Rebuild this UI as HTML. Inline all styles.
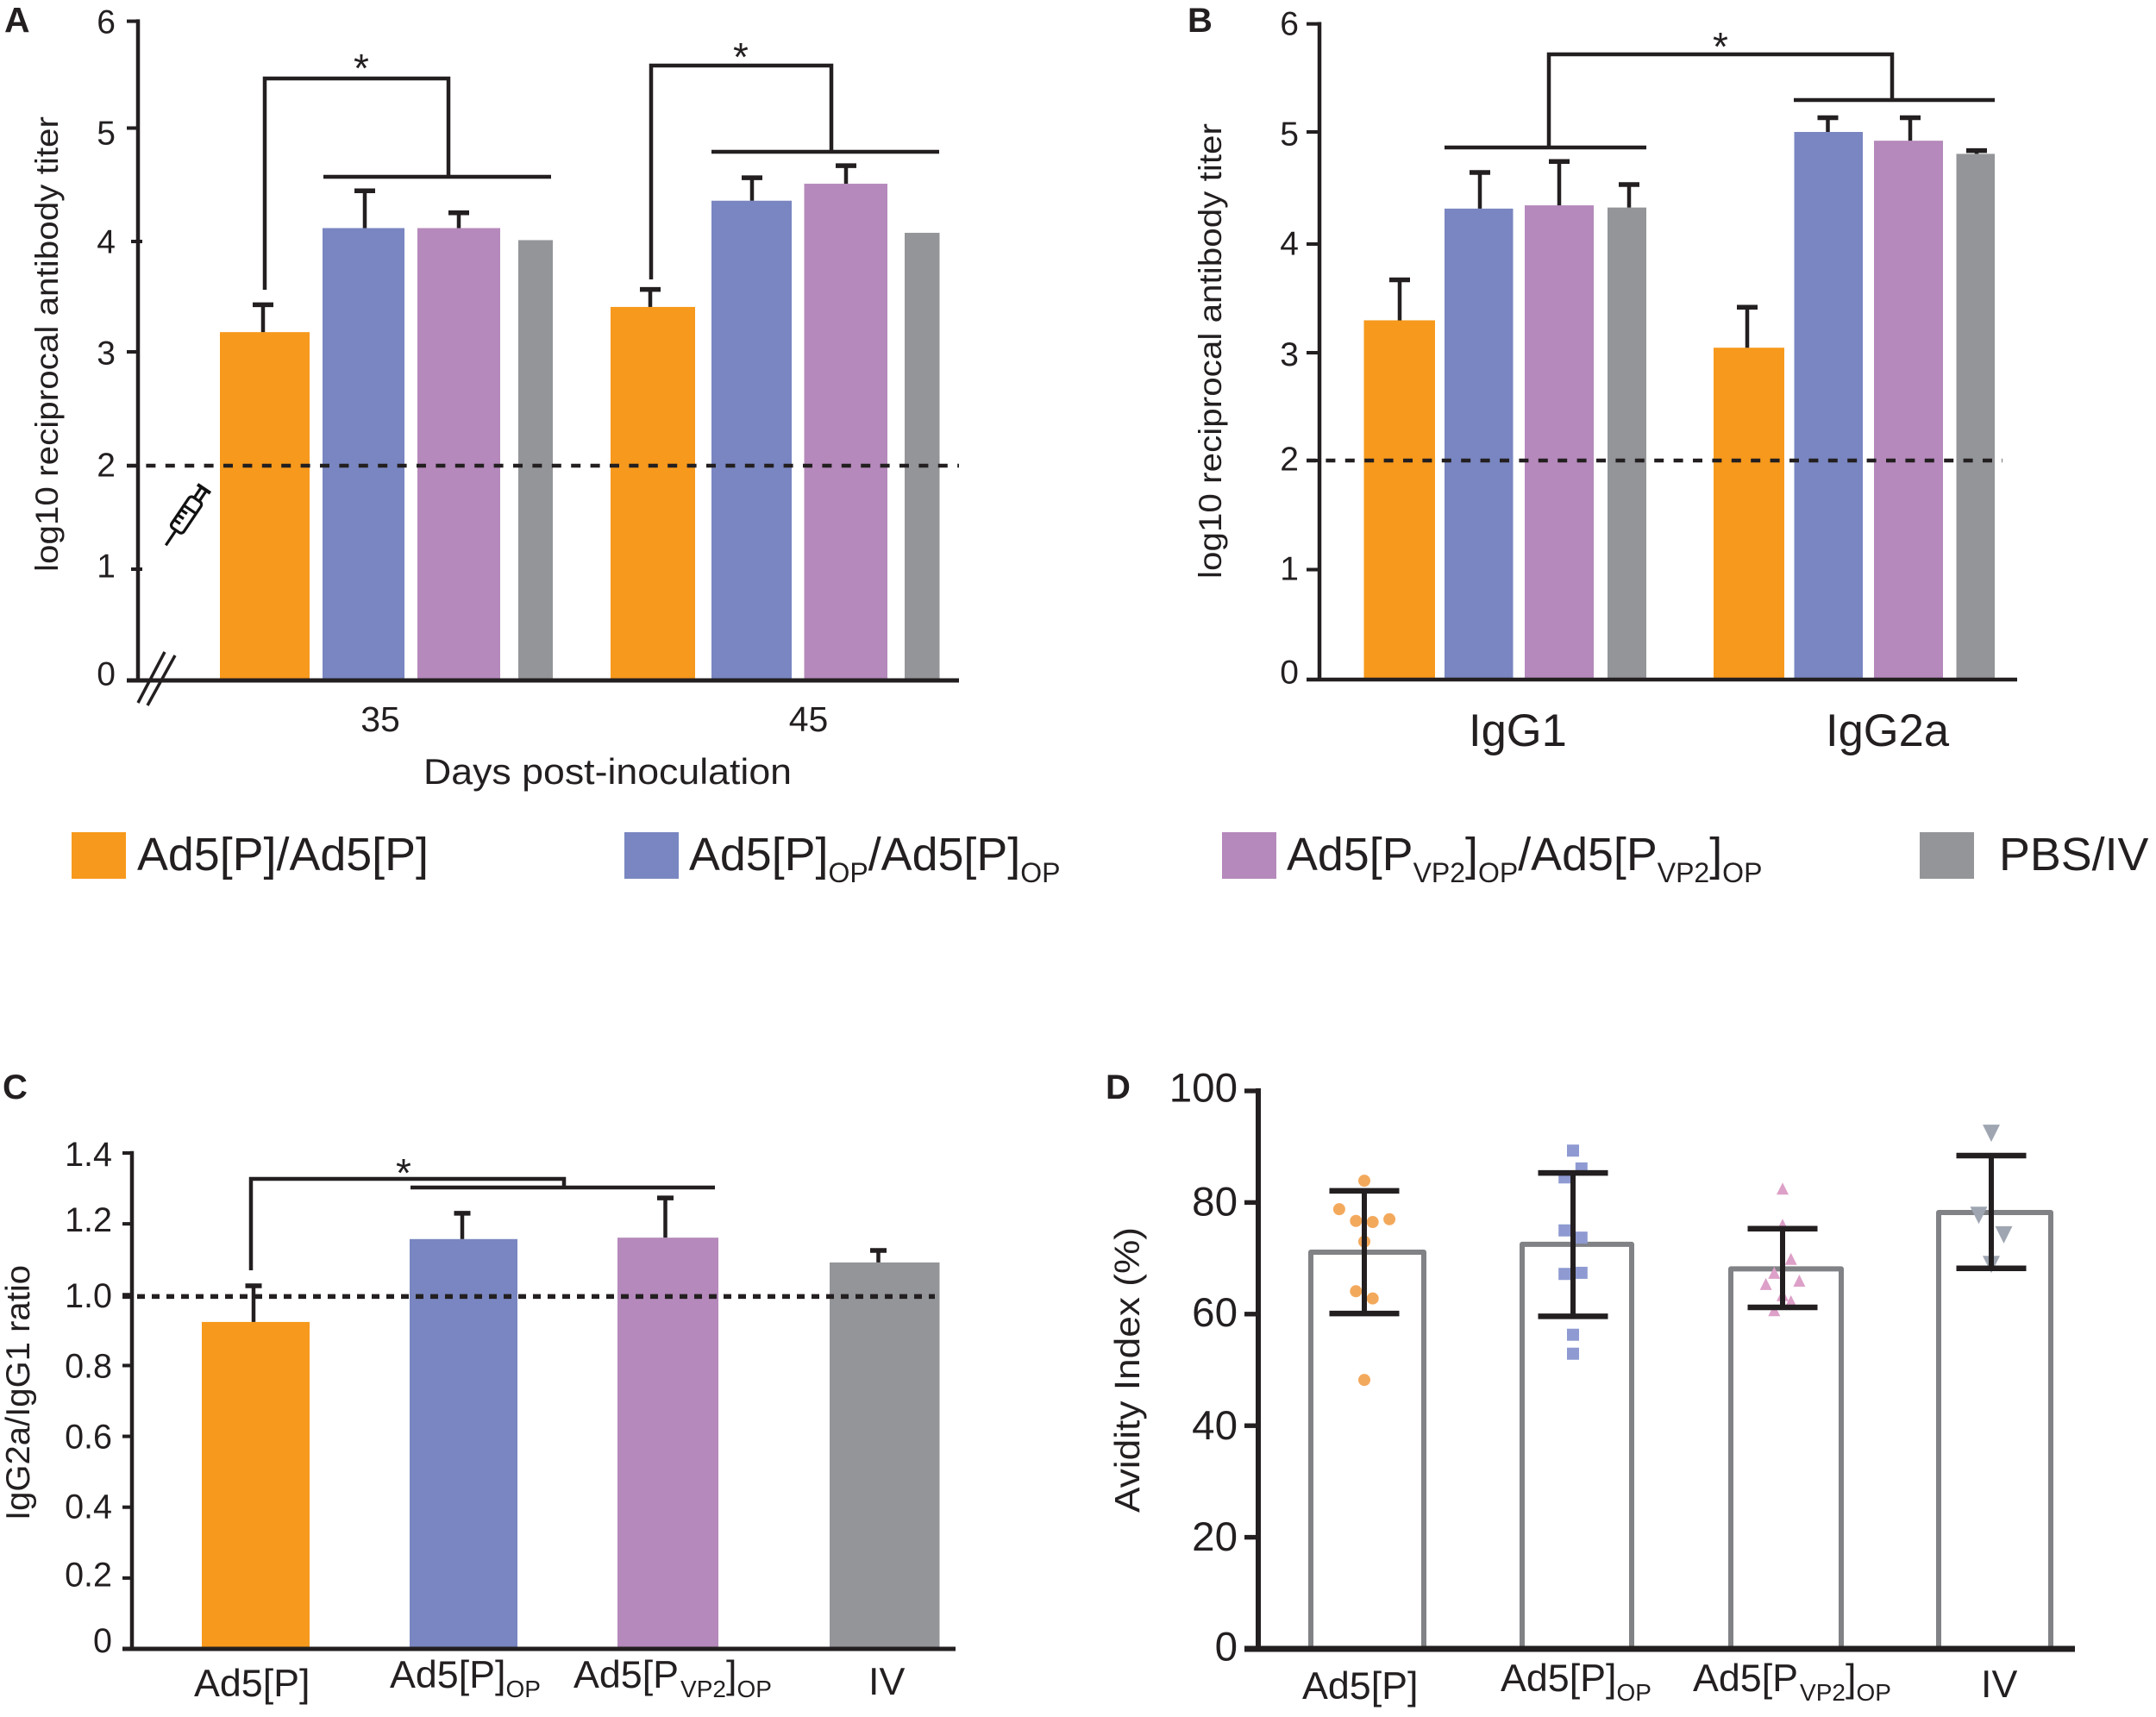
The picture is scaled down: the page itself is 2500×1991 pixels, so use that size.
<!DOCTYPE html>
<html lang="en">
<head>
<meta charset="utf-8">
<title>Antibody titers, ratio and avidity</title>
<style>
html,body{margin:0;padding:0;background:#fff}
svg{display:block}
text{font-family:"Liberation Sans",sans-serif;fill:#231f20}
.b{font-weight:bold}
.line{stroke:#231f20;fill:none;stroke-linecap:butt}
</style>
</head>
<body>
<svg id="fig" xmlns="http://www.w3.org/2000/svg" width="2500" height="1991" viewBox="0 0 2500 1991">
<rect x="0" y="0" width="2500" height="1991" fill="#fff"/>
<text class="b" x="5" y="37" font-size="41">A</text>
<text class="b" x="1377" y="37" font-size="40">B</text>
<text class="b" x="3" y="1274" font-size="40">C</text>
<text class="b" x="1282" y="1274" font-size="40">D</text>

<g id="panelA"></g>
<g id="panelB"></g>
<g id="panelC"></g>
<g id="panelD"></g>

<!-- panel A annotations -->
<text transform="translate(67,663) rotate(-90)" font-size="37" textLength="528" lengthAdjust="spacingAndGlyphs">log10 reciprocal antibody titer</text>
<text x="491" y="909" font-size="42" textLength="427" lengthAdjust="spacingAndGlyphs">Days post-inoculation</text>
<path class="line" stroke-width="4.5" d="M307 336V91H520V205M375 205H639"/>
<path class="line" stroke-width="4.5" d="M755 324V76H964V176M825 176H1089"/>
<text x="419" y="95" font-size="46" text-anchor="middle">*</text>
<text x="859" y="82" font-size="46" text-anchor="middle">*</text>
<g class="line" stroke-width="3.5" fill="none" stroke="#231f20">
<line x1="191" y1="756" x2="160" y2="815"/>
<line x1="203" y1="760" x2="171" y2="818"/>
</g>
<g transform="translate(192.3,632.3) rotate(-56)" stroke="#111" fill="none" stroke-width="3.2" stroke-linejoin="round">
<line x1="0" y1="0" x2="21" y2="0"/>
<rect x="21" y="-8.5" width="43" height="17" rx="4" fill="#fff"/>
<line x1="50" y1="-8.5" x2="50" y2="8.5"/>
<line x1="30" y1="-8.5" x2="30" y2="0"/>
<line x1="37" y1="-8.5" x2="37" y2="0"/>
<line x1="44" y1="-8.5" x2="44" y2="0"/>
<line x1="64" y1="-3.5" x2="78" y2="-3.5"/>
<line x1="64" y1="3.5" x2="78" y2="3.5"/>
<line x1="79" y1="-9" x2="79" y2="9" stroke-width="4"/>
</g>

<!-- panel B annotations -->
<text transform="translate(1416,671) rotate(-90)" font-size="37" textLength="528" lengthAdjust="spacingAndGlyphs">log10 reciprocal antibody titer</text>
<path class="line" stroke-width="4.5" d="M1675 171H1909M1796 171V63H2194V116M2080 116H2313"/>
<text x="1995" y="70" font-size="46" text-anchor="middle">*</text>

<!-- panel C annotations -->
<text transform="translate(34,1763) rotate(-90)" font-size="39" textLength="296" lengthAdjust="spacingAndGlyphs">IgG2a/IgG1 ratio</text>
<path class="line" stroke-width="4.5" d="M291 1473V1367H654V1377M476 1377H829"/>
<text x="468" y="1376" font-size="46" text-anchor="middle">*</text>
<text x="225" y="1967" font-size="44.8">Ad5[P]</text>
<text x="452" y="1957" font-size="44.8">Ad5[P]<tspan dy="11" font-size="28">OP</tspan></text>
<text x="665" y="1957" font-size="44.8">Ad5[P<tspan dx="2" dy="11" font-size="28">VP2</tspan><tspan dy="-11">]</tspan><tspan dy="11" font-size="28">OP</tspan></text>
<text x="1007" y="1965" font-size="44.8">IV</text>

<!-- panel D annotations -->
<text transform="translate(1321,1754) rotate(-90)" font-size="41" textLength="331" lengthAdjust="spacingAndGlyphs">Avidity Index (%)</text>
<text x="1510" y="1970" font-size="44.8">Ad5[P]</text>
<text x="1740" y="1961" font-size="44.8">Ad5[P]<tspan dy="11" font-size="28">OP</tspan></text>
<text x="1963" y="1961" font-size="44.8">Ad5[P<tspan dx="2" dy="11" font-size="28">VP2</tspan><tspan dy="-11">]</tspan><tspan dy="11" font-size="28">OP</tspan></text>
<text x="2297" y="1968" font-size="44.8">IV</text>

<!-- shared legend -->
<g>
<g>
<rect x="83" y="965" width="63" height="54" fill="#f7991c"/>
<text x="159" y="1009" font-size="53.8">Ad5[P]/Ad5[P]</text>
</g>
<g>
<rect x="724" y="965" width="63" height="54" fill="#7986c1"/>
<text x="799" y="1009" font-size="53.8">Ad5[P]<tspan dy="14" font-size="32">OP</tspan><tspan dy="-14">/Ad5[P]</tspan><tspan dy="14" font-size="32">OP</tspan></text>
</g>
<g>
<rect x="1417" y="965" width="63" height="54" fill="#b589bb"/>
<text x="1492" y="1009" font-size="53.8">Ad5[P<tspan dy="14" font-size="32">VP2</tspan><tspan dy="-14">]</tspan><tspan dy="14" font-size="32">OP</tspan><tspan dy="-14">/Ad5[P</tspan><tspan dy="14" font-size="32">VP2</tspan><tspan dy="-14">]</tspan><tspan dy="14" font-size="32">OP</tspan></text>
</g>
<g>
<rect x="2226" y="965" width="63" height="54" fill="#939598"/>
<text x="2318" y="1009" font-size="53.8">PBS/IV</text>
</g>
</g>
</svg>

<script>
// ---------- chart data ----------
const seriesNames = ['ad5p', 'ad5p-op', 'ad5pvp2-op', 'pbs-iv'];
const seriesColors = ['#f7991c', '#7986c1', '#b589bb', '#939598'];

// Panel A: log10 titer by day
const aCategories = ['35', '45'];
const aTicks = [0, 1, 2, 3, 4, 5, 6];
const aMeans0 = [3.18, 3.41];
const aMeans1 = [4.13, 4.38];
const aMeans2 = [4.13, 4.535];
const aMeans3 = [4.02, 4.087];
const aUpper0 = [3.43, 3.57];
const aUpper1 = [4.47, 4.59];
const aUpper2 = [4.27, 4.70];
const aThreshold = [2];

// Panel B: log10 titer by isotype
const bCategories = ['IgG1', 'IgG2a'];
const bTicks = [0, 1, 2, 3, 4, 5, 6];
const bMeans0 = [3.28, 3.03];
const bMeans1 = [4.30, 5.00];
const bMeans2 = [4.33, 4.92];
const bMeans3 = [4.31, 4.80];
const bUpper0 = [3.65, 3.40];
const bUpper1 = [4.63, 5.13];
const bUpper2 = [4.73, 5.13];
const bUpper3 = [4.52, 4.83];
const bThreshold = [2];

// Panel C: IgG2a/IgG1 ratio
const cTicks = [0, 0.2, 0.4, 0.6, 0.8, 1.0, 1.2, 1.4];
const cTickLabels = ['0', '0.2', '0.4', '0.6', '0.8', '1.0', '1.2', '1.4'];
const cMeans = [0.923, 1.157, 1.161, 1.091];
const cUpper = [1.025, 1.23, 1.273, 1.125];
const cThreshold = [0.995];

// Panel D: avidity index
const dTicks = [0, 20, 40, 60, 80, 100];
const dMeans = [71.1, 72.5, 68.1, 78.2];
const dUpper = [82.1, 85.3, 75.3, 88.4];
const dLower = [60.1, 59.6, 61.2, 68.2];
const dPoints0 = [83.9, 78.8, 76.7, 76.5, 77.0, 73.0, 64.1, 62.8, 48.2];
const dSwarm0 = [0, -3, -1, 1, 3, 0, -1, 1, 0];
const dPoints1 = [89.3, 86.1, 84.5, 75.0, 73.7, 67.2, 67.4, 56.3, 52.9];
const dSwarm1 = [0, 1, -1, -1, 1, -1, 1, 0, 0];
const dPoints2 = [82.5, 76.0, 69.9, 67.4, 65.4, 66.0, 63.4, 62.3, 60.7];
const dSwarm2 = [0, 0, 1, -1, -2, 2, 0, 1, -1];
const dPoints3 = [92.4, 77.7, 74.2, 68.9];
const dSwarm3 = [0, -1, 1, 0];

// ---------- helpers ----------
const NS = 'http://www.w3.org/2000/svg';
const INK = '#231f20';

function node(parent, tag, name) {
  const el = document.createElementNS(NS, tag);
  
  
  parent.appendChild(el);
  return el;
}
function line(parent, name, x1, y1, x2, y2, w, color) {
  const el = node(parent, 'line', name);
  el.setAttribute('x1', x1);
  el.setAttribute('y1', y1);
  el.setAttribute('x2', x2);
  el.setAttribute('y2', y2);
  el.setAttribute('stroke', color || INK);
  el.setAttribute('stroke-width', w);
  return el;
}
function label(parent, name, str, x, y, size, anchor) {
  const el = node(parent, 'text', name);
  el.setAttribute('x', x);
  el.setAttribute('y', y);
  el.setAttribute('font-size', size);
  el.setAttribute('text-anchor', anchor || 'start');
  el.textContent = str;
  return el;
}
function linear(v0, px0, v1, px1) {
  return function (v) { return px0 + (v - v0) * (px1 - px0) / (v1 - v0); };
}
function bar(parent, name, x, w, top, bottom, fill) {
  const el = node(parent, 'rect', name);
  el.setAttribute('x', x);
  el.setAttribute('y', top);
  el.setAttribute('width', w);
  el.setAttribute('height', bottom - top);
  el.setAttribute('fill', fill);
  return el;
}
function upperError(parent, name, cx, barTop, errTop, capW) {
  line(parent, name + '-stem', cx, barTop, cx, errTop, 4.5);
  line(parent, name + '-cap', cx - capW / 2, errTop, cx + capW / 2, errTop, 5.5);
}
function yAxis(parent, prefix, ticks, labels, y, axisX, tickLen, w, labelRight, size, tickNudge, labelNudge, xNudge) {
  const last = ticks.length - 1;
  line(parent, prefix + '-y-axis-line', axisX, y(ticks[last]) + tickNudge[last] - w / 2, axisX, y(ticks[0]), w);
  ticks.forEach(function (t, i) {
    const ty = y(t) + tickNudge[i];
    const sx = xNudge ? xNudge[i] : 0;
    line(parent, prefix + '-y-tick-' + labels[i], axisX - tickLen + sx, ty, axisX + sx, ty, w * 0.9);
    label(parent, prefix + '-y-tick-label-' + labels[i], labels[i], labelRight, y(t) + labelNudge[i] + size * 0.35, size, 'end');
  });
}
function dashed(parent, name, x1, x2, yv, w, dash) {
  const el = line(parent, name, x1, yv, x2, yv, w);
  el.setAttribute('stroke-dasharray', dash);
  return el;
}

// ---------- panel A ----------
(function () {
  const g = document.getElementById('panelA');
  const y = linear(0, 789, 6, 27);
  const layout = function (grp, ser) {
    return [
      [[255, 104, 305], [374, 95, 423], [484, 96, 532], [601, 40, 0]],
      [[708, 98, 754], [825, 93, 872], [932.5, 96.5, 981], [1049, 40.5, 0]]
    ][grp][ser];
  };
  const means = [aMeans0, aMeans1, aMeans2, aMeans3];
  const uppers = [aUpper0, aUpper1, aUpper2];
  aCategories.forEach(function (cat, gi) {
    means.forEach(function (m, si) {
      const p = layout(gi, si);
      bar(g, 'bar-day' + cat + '-' + seriesNames[si], p[0], p[1], y(m[gi]), y(0), seriesColors[si]);
      if (uppers[si]) upperError(g, 'error-day' + cat + '-' + seriesNames[si], p[2], y(m[gi]), y(uppers[si][gi]), 24);
    });
  });
  yAxis(g, 'panel-a', aTicks, aTicks.map(String), y, 160, 13, 4.5, 134, 39,
    [0, -2, 5, 0, -1, -5.5, -2.4], [-8, -6, 4, 1, -1, 0, -2], [0, 5, 0, 0, 5, 0, 0]);
  line(g, 'panel-a-x-axis-line', 147, y(0), 1112, y(0), 5);
  dashed(g, 'panel-a-threshold-line', 147, 1112, y(aThreshold[0]) + 5, 4.5, '11 11.4');
  const catX = [441, 937.5];
  aCategories.forEach(function (cat, i) {
    label(g, 'panel-a-x-tick-label-' + cat, cat, catX[i], 848, 41, 'middle');
  });
})();

// ---------- panel B ----------
(function () {
  const g = document.getElementById('panelB');
  const y = linear(0, 788, 6, 26);
  const layout = function (grp, ser) {
    return [
      [[1581.5, 82.5, 1623], [1675, 79.5, 1716], [1768, 80, 1808], [1864, 45, 1889]],
      [[1987, 82, 2026], [2080.5, 79.5, 2119.5], [2173, 80, 2215], [2268.5, 44.5, 2292]]
    ][grp][ser];
  };
  const means = [bMeans0, bMeans1, bMeans2, bMeans3];
  const uppers = [bUpper0, bUpper1, bUpper2, bUpper3];
  bCategories.forEach(function (cat, gi) {
    means.forEach(function (m, si) {
      const p = layout(gi, si);
      bar(g, 'bar-' + cat + '-' + seriesNames[si], p[0], p[1], y(m[gi]), y(0), seriesColors[si]);
      upperError(g, 'error-' + cat + '-' + seriesNames[si], p[2], y(m[gi]), y(uppers[si][gi]), 24);
    });
  });
  yAxis(g, 'panel-b', bTicks, bTicks.map(String), y, 1530, 15, 4.5, 1506, 39,
    [0, -0.5, 0, 2, 3, 0, 1.7], [-9, -2, -2, 3.5, 2, 2, 1]);
  line(g, 'panel-b-x-axis-line', 1515, y(0), 2339, y(0), 4.5);
  dashed(g, 'panel-b-threshold-line', 1515, 2322, y(bThreshold[0]), 4.5, '11 11.4');
  const catX = [1703, 2117];
  bCategories.forEach(function (cat, i) {
    label(g, 'panel-b-x-tick-label-' + cat, cat, catX[i], 865, 52.5, 'start');
  });
})();

// ---------- panel C ----------
(function () {
  const g = document.getElementById('panelC');
  const y = linear(0, 1912, 1.4, 1337);
  const layout = function (i) {
    return [[234, 125, 294], [475, 125, 536], [716, 117, 771.5], [962, 127.5, 1018.5]][i];
  };
  cMeans.forEach(function (m, i) {
    const p = layout(i);
    bar(g, 'bar-' + seriesNames[i], p[0], p[1], y(m), y(0), seriesColors[i]);
    upperError(g, 'error-' + seriesNames[i], p[2], y(m), y(cUpper[i]), 19);
  });
  yAxis(g, 'panel-c', cTicks, cTickLabels, y, 153, 11, 4.5, 130, 39.5,
    [0, 0, 0, 0, 0, 0, 0, 0], [-10, -4, -1, 0, 0, 1, -5, 1]);
  line(g, 'panel-c-x-axis-line', 142, y(0), 1108, y(0), 5);
  dashed(g, 'panel-c-threshold-line', 142, 1084, y(cThreshold[0]), 5.5, '9 8');
})();

// ---------- panel D ----------
(function () {
  const g = document.getElementById('panelD');
  const y = linear(0, 1912, 100, 1265);
  const layout = function (i) {
    return [[1520, 1651, 1582], [1765, 1892, 1824], [2007, 2135, 2067], [2248, 2378, 2309]][i];
  };
  const pointSets = [dPoints0, dPoints1, dPoints2, dPoints3];
  const swarmSets = [dSwarm0, dSwarm1, dSwarm2, dSwarm3];
  const swarmStep = [9.7, 9.8, 9.7, 14.5];
  const pointColors = ['#f3a95c', '#8e9ad1', '#dda0c8', '#9fa6b2'];
  dMeans.forEach(function (m, i) {
    const p = layout(i);
    const outline = node(g, 'path', 'bar-outline-' + seriesNames[i]);
    outline.setAttribute('d', 'M' + p[0] + ' ' + y(0) + 'V' + y(m) + 'H' + p[1] + 'V' + y(0));
    outline.setAttribute('fill', 'none');
    outline.setAttribute('stroke', '#808285');
    outline.setAttribute('stroke-width', 6);
    outline.setAttribute('stroke-linejoin', 'round');
  });
  dMeans.forEach(function (m, i) {
    const cx = layout(i)[2];
    pointSets[i].forEach(function (v, k) {
      const px = cx + swarmSets[i][k] * swarmStep[i];
      const py = y(v);
      if (i === 0) {
        const c = node(g, 'circle', 'point-' + seriesNames[i]);
        c.setAttribute('cx', px);
        c.setAttribute('cy', py);
        c.setAttribute('r', 7);
        c.setAttribute('fill', pointColors[i]);
      } else if (i === 1) {
        const r = node(g, 'rect', 'point-' + seriesNames[i]);
        r.setAttribute('x', px - 7);
        r.setAttribute('y', py - 7);
        r.setAttribute('width', 14);
        r.setAttribute('height', 14);
        r.setAttribute('fill', pointColors[i]);
      } else if (i === 2) {
        const t = node(g, 'polygon', 'point-' + seriesNames[i]);
        t.setAttribute('points', (px - 7) + ',' + (py + 7) + ' ' + (px + 7) + ',' + (py + 7) + ' ' + px + ',' + (py - 7));
        t.setAttribute('fill', pointColors[i]);
      } else {
        const t = node(g, 'polygon', 'point-' + seriesNames[i]);
        t.setAttribute('points', (px - 10) + ',' + (py - 10) + ' ' + (px + 10) + ',' + (py - 10) + ' ' + px + ',' + (py + 10));
        t.setAttribute('fill', pointColors[i]);
      }
    });
  });
  dMeans.forEach(function (m, i) {
    const cx = layout(i)[2];
    line(g, 'error-stem-' + seriesNames[i], cx, y(dUpper[i]), cx, y(dLower[i]), 6);
    line(g, 'error-cap-upper-' + seriesNames[i], cx - 40.5, y(dUpper[i]), cx + 40.5, y(dUpper[i]), 6.5);
    line(g, 'error-cap-lower-' + seriesNames[i], cx - 40.5, y(dLower[i]), cx + 40.5, y(dLower[i]), 6.5);
  });
  yAxis(g, 'panel-d', dTicks, dTicks.map(String), y, 1459, 16, 6, 1435, 47.5,
    [0, 0, 0, 0, 0, 0], [-3, -1, -1, -2.5, -1.5, -4]);
  line(g, 'panel-d-x-axis-line', 1443, y(0), 2406, y(0), 7);
})();
</script>
</body>
</html>
